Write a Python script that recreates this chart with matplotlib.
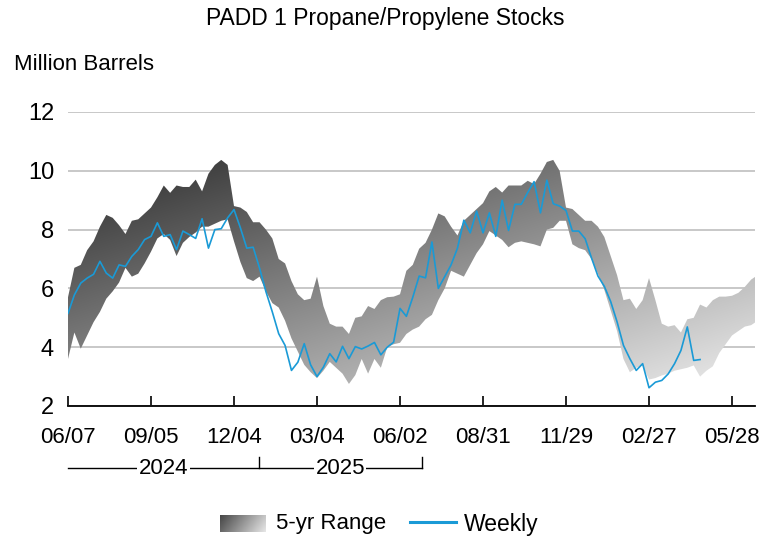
import numpy as np
import matplotlib
matplotlib.use("Agg")
import matplotlib.pyplot as plt
from matplotlib.lines import Line2D
import matplotlib.transforms as mtransforms

plt.rcParams["font.family"] = ["Liberation Sans", "DejaVu Sans"]

# weekly stocks, million barrels, one value per week starting 06/07/2024
weekly = [
    5.15, 5.78, 6.18, 6.35, 6.48, 6.92, 6.52, 6.35, 6.80, 6.75,
    7.09, 7.32, 7.66, 7.77, 8.23, 7.77, 7.83, 7.32, 7.95, 7.83,
    7.70, 8.37, 7.37, 8.00, 8.03, 8.40, 8.68, 8.06, 7.37, 7.40,
    6.69, 5.89, 5.20, 4.46, 4.06, 3.21, 3.49, 4.12, 3.40, 3.00,
    3.32, 3.78, 3.50, 4.03, 3.61, 4.02, 3.94, 4.04, 4.16, 3.74,
    4.00, 4.17, 5.32, 5.05, 5.70, 6.42, 6.36, 7.58, 6.00, 6.40,
    6.80, 7.37, 8.32, 7.89, 8.63, 7.89, 8.57, 7.77, 9.00, 7.97,
    8.86, 8.86, 9.26, 9.63, 8.57, 9.68, 8.88, 8.80, 8.65, 7.95,
    7.95, 7.69, 7.03, 6.42, 6.07, 5.55, 4.86, 4.06, 3.61, 3.21,
    3.44, 2.62, 2.81, 2.87, 3.09, 3.44, 3.89, 4.69, 3.55, 3.58,
]

# five-year range, upper and lower bounds per week
range_hi = [
    5.70, 6.70, 6.80, 7.30, 7.60, 8.10, 8.50, 8.40, 8.15, 7.85,
    8.30, 8.35, 8.55, 8.75, 9.10, 9.50, 9.25, 9.50, 9.45, 9.45,
    9.70, 9.30, 9.90, 10.20, 10.37, 10.20, 8.80, 8.75, 8.60, 8.25,
    8.25, 8.00, 7.70, 7.00, 6.85, 6.25, 5.80, 5.60, 5.65, 6.40,
    5.40, 4.80, 4.70, 4.70, 4.45, 5.00, 5.05, 5.40, 5.30, 5.60,
    5.70, 5.72, 5.80, 6.60, 6.80, 7.35, 7.55, 8.00, 8.55, 8.45,
    8.10, 7.80, 8.30, 8.50, 8.70, 8.90, 9.30, 9.45, 9.26, 9.50,
    9.50, 9.50, 9.66, 9.55, 9.90, 10.30, 10.37, 10.00, 8.75, 8.70,
    8.50, 8.30, 8.30, 8.10, 7.75, 7.10, 6.45, 5.60, 5.65, 5.30,
    5.60, 6.35, 5.60, 4.80, 4.70, 4.75, 4.50, 4.95, 5.00, 5.45,
    5.35, 5.60, 5.72, 5.72, 5.75, 5.85, 6.05, 6.30, 6.45,
]
range_lo = [
    3.60, 4.50, 3.95, 4.40, 4.85, 5.20, 5.65, 5.90, 6.20, 6.70,
    6.40, 6.50, 6.85, 7.25, 7.70, 7.85, 7.65, 7.10, 7.55, 7.75,
    7.90, 8.10, 8.10, 8.20, 8.30, 8.35, 7.60, 6.90, 6.35, 6.25,
    6.40, 5.90, 5.50, 5.35, 4.90, 4.30, 3.85, 3.40, 3.15, 2.95,
    3.20, 3.50, 3.30, 3.10, 2.75, 3.05, 3.60, 3.10, 3.60, 3.30,
    4.00, 4.10, 4.15, 4.45, 4.60, 4.70, 4.95, 5.10, 5.60, 6.00,
    6.60, 6.50, 6.40, 6.80, 7.20, 7.50, 7.95, 7.80, 7.65, 7.40,
    7.55, 7.60, 7.55, 7.50, 7.43, 8.00, 8.06, 8.30, 8.30, 7.50,
    7.37, 7.30, 7.00, 6.50, 5.95, 5.25, 4.55, 3.60, 3.15, 3.30,
    3.38, 2.90, 2.95, 3.04, 3.10, 3.20, 3.25, 3.30, 3.38, 3.00,
    3.20, 3.35, 3.80, 4.10, 4.40, 4.55, 4.70, 4.75, 4.90,
]

tick_labels = ["06/07", "09/05", "12/04", "03/04", "06/02",
               "08/31", "11/29", "02/27", "05/28"]
years = ["2024", "2025"]
year_edges = [0, 29.9, 55.4]  # week index where each year bracket starts/ends

blue = "#1a9ad6"
fs = 16

fig = plt.figure(figsize=(7.71, 5.42), dpi=100)
ax = fig.add_axes([68 / 771, 1 - 406 / 542, 687 / 771, 294 / 542])

band_x = np.arange(len(range_hi))
band = ax.fill_between(band_x, range_lo, range_hi, facecolor="none",
                       edgecolor="none", zorder=1)

# diagonal grey shading: dark at upper left, light at lower right
gx = np.linspace(0, 108, 500)
gy = np.linspace(10.5, 2.5, 300)
GX, GY = np.meshgrid(gx, gy)
t = 0.5 * (GX / 108 + (10.5 - GY) / 8.0)
grey = np.clip(40 + 200 * t, 0, 255) / 255
img = ax.imshow(np.dstack([grey, grey, grey]), extent=[0, 108, 2.5, 10.5],
                origin="upper", aspect="auto", interpolation="bilinear",
                zorder=1)
img.set_clip_path(band.get_paths()[0], transform=ax.transData)

ax.plot(np.arange(len(weekly)), weekly, color=blue, lw=1.2, zorder=3)

ax.set_xlim(0, 107.6)
ax.set_ylim(2, 12)
ax.set_yticks([2, 4, 6, 8, 10, 12])
ax.grid(axis="y", color="#c8c8c8", lw=1.4, zorder=0)
ax.set_axisbelow(True)
for s in ["top", "right", "left"]:
    ax.spines[s].set_visible(False)
ax.spines["bottom"].set_linewidth(1.3)
ax.spines["bottom"].set_zorder(4)

ax.set_xticks(np.arange(len(tick_labels)) * 13)
ax.set_xticklabels(tick_labels)
ax.tick_params(axis="x", direction="in", length=7, width=1.2, labelsize=fs,
               pad=15, colors="black")
ax.tick_params(axis="y", length=0, labelsize=17, pad=10)

# year brackets under the date labels
trans = mtransforms.blended_transform_factory(ax.transData, ax.transAxes)
yb, yt = -0.212, -0.175
ax.add_line(Line2D([year_edges[0], year_edges[-1]], [yb, yb], color="black",
                   lw=1.0, transform=trans, clip_on=False))
for e in year_edges[1:]:
    ax.add_line(Line2D([e, e], [yb, yt], color="black", lw=1.0,
                       transform=trans, clip_on=False))
for i, yr in enumerate(years):
    mid = (year_edges[i] + year_edges[i + 1]) / 2
    ax.text(mid, yb, yr, transform=trans, ha="center", va="center",
            fontsize=fs, bbox=dict(facecolor="white", edgecolor="none", pad=1.0))

fig.text(385 / 771, 1 - 18 / 542, "PADD 1 Propane/Propylene Stocks",
         ha="center", va="center", fontsize=16.5)
fig.text(14 / 771, 1 - 64 / 542, "Million Barrels", ha="left", va="center",
         fontsize=16)

# legend: gradient swatch and line sample
sw = fig.add_axes([220 / 771, 1 - 532 / 542, 46 / 771, 17 / 542])
sx = np.linspace(0, 1, 60)
sy = np.linspace(0, 1, 20)
SX, SY = np.meshgrid(sx, sy)
sg = np.clip(70 + 160 * (0.8 * SX + 0.2 * SY), 0, 255) / 255
sw.imshow(np.dstack([sg, sg, sg]), aspect="auto", interpolation="bilinear")
sw.axis("off")
fig.text(276 / 771, 1 - 524 / 542, "5-yr Range", ha="left", va="center",
         fontsize=16)
fig.add_artist(Line2D([410 / 771, 456 / 771], [1 - 522 / 542, 1 - 522 / 542],
                      color=blue, lw=2.2, transform=fig.transFigure))
fig.text(464 / 771, 1 - 524 / 542, "Weekly", ha="left", va="center",
         fontsize=16.5)

fig.savefig("out.png", dpi=100)
